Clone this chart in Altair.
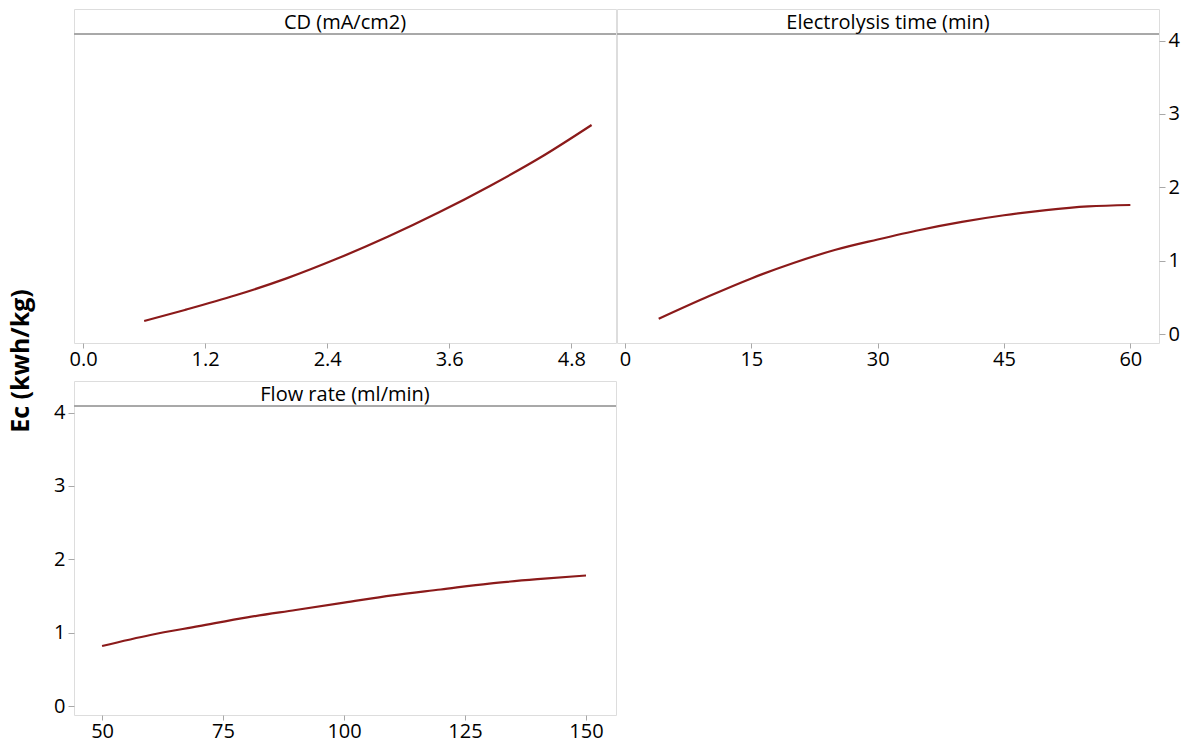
import altair as alt
import pandas as pd

# ---- data ----
cd_x = [0.6, 1.0, 1.5, 2.0, 2.5, 3.0, 3.5, 4.0, 4.5, 5.0]
cd_y = [0.18, 0.33, 0.53, 0.76, 1.03, 1.33, 1.66, 2.02, 2.41, 2.85]

time_x = [4, 10, 15, 20, 25, 30, 35, 40, 45, 50, 55, 60]
time_y = [0.21, 0.52, 0.76, 0.97, 1.15, 1.29, 1.42, 1.53, 1.62, 1.69, 1.74, 1.76]

flow_x = [50, 60, 70, 80, 90, 100, 110, 120, 130, 140, 150]
flow_y = [0.82, 0.97, 1.09, 1.21, 1.31, 1.41, 1.51, 1.59, 1.67, 1.73, 1.78]

cd_ticks = [0.0, 1.2, 2.4, 3.6, 4.8]
time_ticks = [0, 15, 30, 45, 60]
flow_ticks = [50, 75, 100, 125, 150]
y_ticks = [0, 1, 2, 3, 4]

FONT = "Open Sans"
GRAY = "#a8a8a8"
LINE = "#8b1a1a"
W = 542
H = 334
STRIP = 25
Y_DOMAIN = [-0.12, 4.43]


def panel(xs, ys, title, xdomain, xticks, xfmt, yorient=None):
    df = pd.DataFrame({"x": xs, "y": ys})
    if yorient is None:
        yaxis = None
    else:
        yaxis = alt.Axis(values=y_ticks, orient=yorient, title=None, format="d",
                         grid=False, domain=False, tickColor=GRAY, tickSize=6,
                         labelFontSize=20, labelFont=FONT, labelColor="#000",
                         labelPadding=3)
    line = alt.Chart(df).mark_line(color=LINE, strokeWidth=2.2, interpolate="monotone").encode(
        x=alt.X("x:Q", scale=alt.Scale(domain=xdomain, nice=False, zero=False),
                axis=alt.Axis(values=xticks, format=xfmt, title=None, grid=False,
                              domain=False, tickColor=GRAY, tickSize=5,
                              labelFontSize=20, labelFont=FONT, labelColor="#000",
                              labelPadding=1, labelFlush=False)),
        y=alt.Y("y:Q", scale=alt.Scale(domain=Y_DOMAIN, nice=False, zero=False),
                axis=yaxis),
    )
    strip_line = alt.Chart(df).mark_rule(color=GRAY, strokeWidth=1).encode(
        x=alt.value(0), x2=alt.value(W), y=alt.value(STRIP)
    )
    strip_text = alt.Chart(pd.DataFrame({"t": [title]})).mark_text(
        font=FONT, fontSize=20, color="#000", align="center", baseline="middle"
    ).encode(x=alt.value(W / 2), y=alt.value(STRIP / 2 + 1), text="t:N")
    return alt.layer(line, strip_line, strip_text).properties(width=W, height=H)


p_cd = panel(cd_x, cd_y, "CD (mA/cm2)", [-0.09, 5.24], cd_ticks, ".1f")
p_time = panel(time_x, time_y, "Electrolysis time (min)", [-0.95, 63.4], time_ticks, "d", "right")
p_flow = panel(flow_x, flow_y, "Flow rate (ml/min)", [44.2, 156.2], flow_ticks, "d", "left")

top = alt.hconcat(p_cd, p_time, spacing=-4)
chart = alt.vconcat(top, p_flow, spacing=10).properties(
    title=alt.TitleParams("Ec (kwh/kg)", orient="left", anchor="middle",
                          font=FONT, fontSize=25, fontWeight="bold", color="#000",
                          offset=19, dx=14),
    padding={"left": 9, "top": 8, "right": 5, "bottom": 0},
).configure_view(stroke=GRAY, strokeWidth=1.2).configure(background="white")

chart.save("out.html", embed_options={"renderer": "svg", "actions": False})
